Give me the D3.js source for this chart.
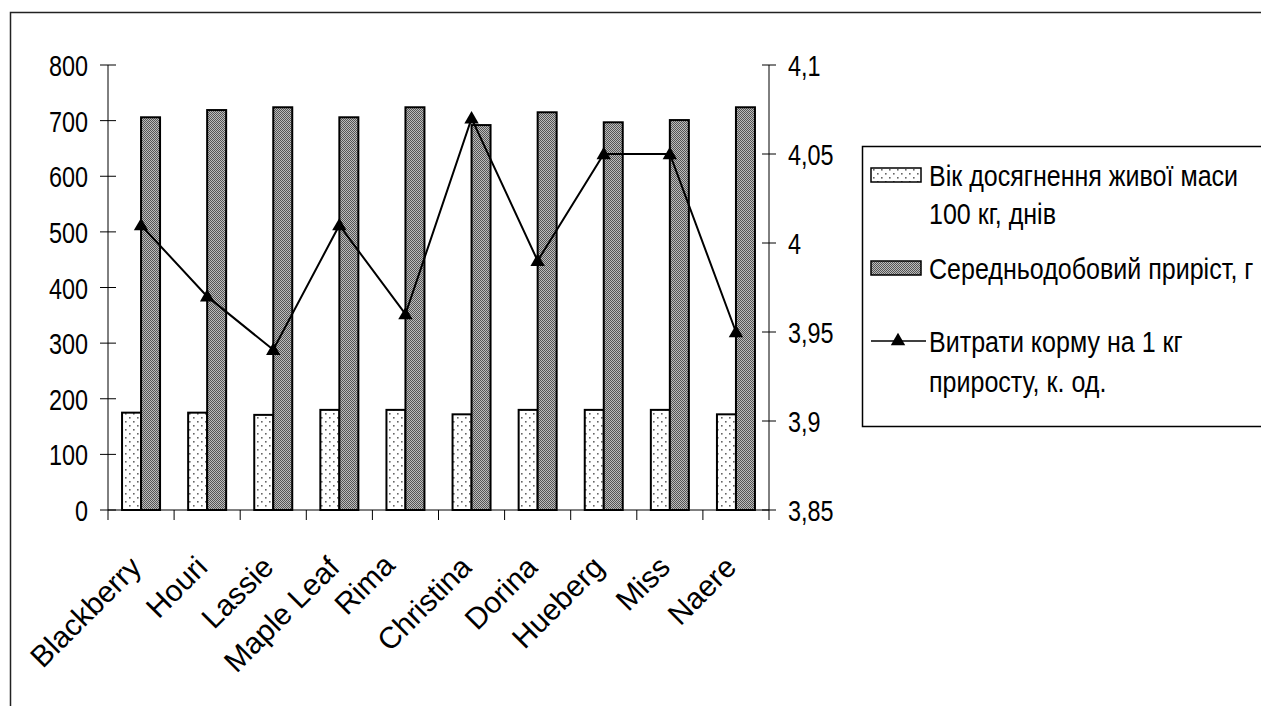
<!DOCTYPE html>
<html><head><meta charset="utf-8">
<script src="https://cdn.jsdelivr.net/npm/d3@7"></script>
<style>
html,body{margin:0;padding:0;background:#fff;}
svg{display:block;}
text{font-family:"Liberation Sans",Arial,sans-serif;fill:#000;}
</style></head>
<body>
<svg id="c" width="1261" height="706"></svg>
<script>
const categories = ["Blackberry","Houri","Lassie","Maple Leaf","Rima","Christina","Dorina","Hueberg","Miss","Naere"];
const ageDays = [175,175,171,180,180,172,180,180,180,172];
const dailyGain = [706,719,724,706,724,692,715,697,701,724];
const feedCost = [4.01,3.97,3.94,4.01,3.96,4.07,3.99,4.05,4.05,3.95];
const leftTicks = [0,100,200,300,400,500,600,700,800];
const rightTicks = [3.85,3.9,3.95,4.0,4.05,4.1];
const seriesNames = ["Вік досягнення живої маси|100 кг, днів","Середньодобовий приріст, г","Витрати корму на 1 кг|приросту, к. од."];

const svg = d3.select("#c");
const defs = svg.append("defs");
const p1 = defs.append("pattern").attr("id","dots").attr("patternUnits","userSpaceOnUse").attr("width",8).attr("height",8);
p1.append("rect").attr("width",8).attr("height",8).attr("fill","#fff");
p1.append("rect").attr("x",1).attr("y",1).attr("width",1.6).attr("height",1.6).attr("fill","#666");
p1.append("rect").attr("x",5).attr("y",5).attr("width",1.6).attr("height",1.6).attr("fill","#666");
const p2 = defs.append("pattern").attr("id","check").attr("patternUnits","userSpaceOnUse").attr("width",2).attr("height",2);
p2.append("rect").attr("width",2).attr("height",2).attr("fill","#bcbcbc");
p2.append("rect").attr("width",1).attr("height",1).attr("fill","#555");
p2.append("rect").attr("x",1).attr("y",1).attr("width",1).attr("height",1).attr("fill","#555");

svg.append("path").attr("d","M10.5,706 V12.5 H1261").attr("fill","none").attr("stroke","#222").attr("stroke-width",1.5);

const X0 = 108, X1 = 769, Y0 = 510, Y1 = 65;
const x = d3.scaleBand().domain(categories).range([X0,X1]).paddingInner(0).paddingOuter(0);
const yL = d3.scaleLinear().domain([0,800]).range([Y0,Y1]);
const yR = d3.scaleLinear().domain([3.85,4.1]).range([Y0,Y1]);
const barW = 19;
const fs = 30, sx = 0.78, sxLeg = 0.835;

function hText(g, tx, ty, str, anchor, s){
  return g.append("text").attr("transform",`translate(${tx},${ty}) scale(${s||sx},1)`)
    .attr("text-anchor",anchor||"start").attr("font-size",fs).text(str);
}

const gL = svg.append("g");
gL.append("line").attr("x1",X0).attr("x2",X0).attr("y1",Y0).attr("y2",Y1).attr("stroke","#000");
gL.selectAll("line.t").data(leftTicks).join("line").attr("class","t")
  .attr("x1",X0-8).attr("x2",X0+8).attr("y1",d=>yL(d)).attr("y2",d=>yL(d)).attr("stroke","#000");
leftTicks.forEach(d=>hText(gL, X0-20, yL(d)+11, d, "end"));

const gR = svg.append("g");
gR.append("line").attr("x1",X1).attr("x2",X1).attr("y1",Y0).attr("y2",Y1).attr("stroke","#000");
gR.selectAll("line.t").data(rightTicks).join("line").attr("class","t")
  .attr("x1",X1-7).attr("x2",X1+7).attr("y1",d=>yR(d)).attr("y2",d=>yR(d)).attr("stroke","#000");
rightTicks.forEach(d=>hText(gR, X1+19, yR(d)+11, String(+d.toFixed(2)).replace(".",",")));

svg.append("line").attr("x1",X0).attr("x2",X1).attr("y1",Y0).attr("y2",Y0).attr("stroke","#000");
svg.selectAll("line.ct").data(d3.range(categories.length+1)).join("line").attr("class","ct")
  .attr("x1",i=>X0+i*x.bandwidth()).attr("x2",i=>X0+i*x.bandwidth())
  .attr("y1",Y0).attr("y2",Y0+10).attr("stroke","#000");

const cx = c => x(c)+x.bandwidth()/2;
svg.selectAll("rect.b1").data(categories).join("rect").attr("class","b1")
  .attr("x",c=>cx(c)-barW).attr("width",barW)
  .attr("y",(c,i)=>yL(ageDays[i])).attr("height",(c,i)=>Y0-yL(ageDays[i]))
  .attr("fill","url(#dots)").attr("stroke","#000").attr("stroke-width",2);
svg.selectAll("rect.b2").data(categories).join("rect").attr("class","b2")
  .attr("x",c=>cx(c)).attr("width",barW)
  .attr("y",(c,i)=>yL(dailyGain[i])).attr("height",(c,i)=>Y0-yL(dailyGain[i]))
  .attr("fill","url(#check)").attr("stroke","#000").attr("stroke-width",2);

const line = d3.line().x((d,i)=>cx(categories[i])).y(d=>yR(d));
svg.append("path").datum(feedCost).attr("d",line).attr("fill","none").attr("stroke","#000").attr("stroke-width",2);
const tri = d3.symbol().type(d3.symbolTriangle).size(90);
svg.selectAll("path.m").data(feedCost).join("path").attr("class","m")
  .attr("d",tri).attr("transform",(d,i)=>`translate(${cx(categories[i])},${yR(d)+1})`).attr("fill","#000");

categories.forEach((c,i)=>{
  const id = "lblclip"+i;
  const cp = defs.append("clipPath").attr("id",id).attr("clipPathUnits","userSpaceOnUse");
  cp.append("rect").attr("x",cx(c)-250).attr("y",Y0+5).attr("width",250+1).attr("height",250);
  const isR = c==="Rima";
  const ax = cx(c)+(isR?-9:2), ay = Y0+(isR?57:59);
  svg.append("text").attr("clip-path",`url(#${id})`)
    .attr("x",ax).attr("y",ay)
    .attr("transform",`rotate(-45 ${ax} ${ay})`)
    .attr("text-anchor","end").attr("font-size",fs)
    .attr("fill", isR ? "#4a3aa8" : "#000")
    .text(c);
});

const lg = svg.append("g");
lg.append("path").attr("d","M1261,146.5 H862.5 V426.5 H1261").attr("fill","none").attr("stroke","#000").attr("stroke-width",1.5);
lg.append("rect").attr("x",871).attr("y",168).attr("width",50).attr("height",14).attr("fill","url(#dots)").attr("stroke","#000").attr("stroke-width",1.5);
lg.append("rect").attr("x",871).attr("y",261).attr("width",50).attr("height",14).attr("fill","url(#check)").attr("stroke","#000").attr("stroke-width",1.5);
lg.append("line").attr("x1",871).attr("x2",926).attr("y1",341).attr("y2",341).attr("stroke","#000").attr("stroke-width",1.5);
lg.append("path").attr("d",tri).attr("transform","translate(898,341)").attr("fill","#000");
const legY = [[186,224],[279],[352,392]];
seriesNames.forEach((n,i)=>{
  n.split("|").forEach((ln,j)=> hText(lg, 929, legY[i][j], ln, "start", sxLeg));
});
</script>
</body></html>
